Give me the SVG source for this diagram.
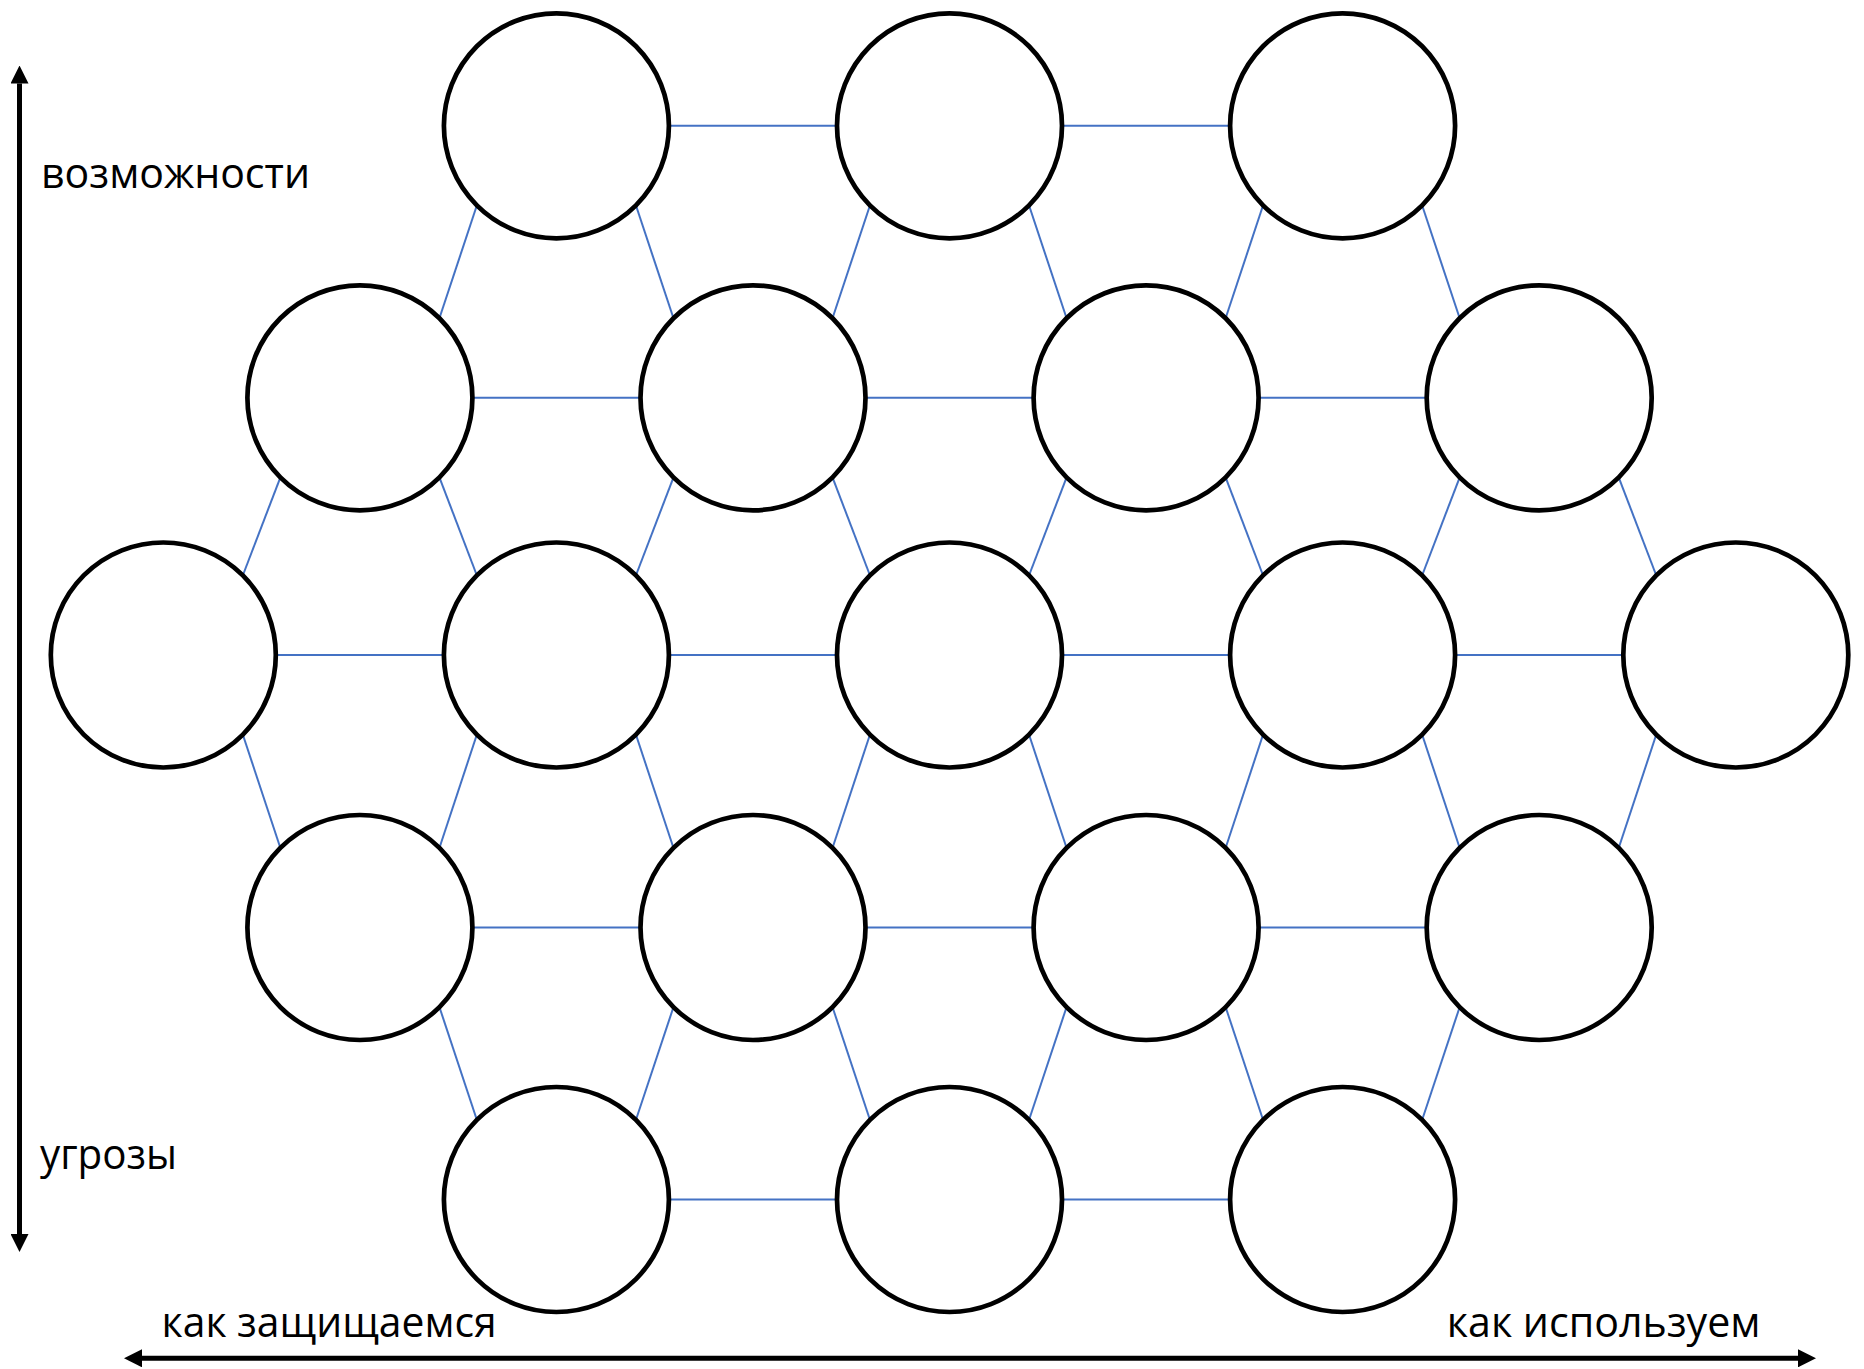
<svg xmlns="http://www.w3.org/2000/svg" width="1864" height="1369" viewBox="0 0 1864 1369">
<style>
.node{fill:#fff;stroke:#000;stroke-width:4.7}
.conn{stroke:#4472C4;stroke-width:2;fill:none}
.axis{stroke:#000;stroke-width:5;fill:none}
.lbl{font-family:"Open Sans","Noto Sans","Liberation Sans",sans-serif;font-size:42px;fill:#000}
</style>
<defs>
<marker id="ah" markerUnits="userSpaceOnUse" markerWidth="18" markerHeight="18" refX="0" refY="9" orient="auto-start-reverse" viewBox="0 0 18 18">
<path d="M0,0 L18,9 L0,18 z" fill="#000"/>
</marker>
</defs>
<rect width="1864" height="1369" fill="#fff"/>
<g id="connectors">
<!-- row 1 horizontals -->
<line class="conn" x1="668.9" y1="125.8" x2="836.9" y2="125.8"/>
<line class="conn" x1="1062" y1="125.8" x2="1230.1" y2="125.8"/>
<!-- row 1 -> row 2 -->
<line class="conn" x1="476.9" y1="205.3" x2="439.4" y2="318.3"/>
<line class="conn" x1="635.9" y1="205.3" x2="673.5" y2="318.3"/>
<line class="conn" x1="870" y1="205.3" x2="832.5" y2="318.3"/>
<line class="conn" x1="1029" y1="205.3" x2="1066.6" y2="318.3"/>
<line class="conn" x1="1263.1" y1="205.3" x2="1225.6" y2="318.3"/>
<line class="conn" x1="1422.1" y1="205.3" x2="1459.7" y2="318.3"/>
<!-- row 2 horizontals -->
<line class="conn" x1="472.4" y1="397.8" x2="640.5" y2="397.8"/>
<line class="conn" x1="865.5" y1="397.8" x2="1033.6" y2="397.8"/>
<line class="conn" x1="1258.6" y1="397.8" x2="1426.7" y2="397.8"/>
<!-- row 2 -> row 3 -->
<line class="conn" x1="280.4" y1="477.3" x2="242.8" y2="575.5"/>
<line class="conn" x1="439.4" y1="477.3" x2="476.9" y2="575.5"/>
<line class="conn" x1="673.5" y1="477.3" x2="635.9" y2="575.5"/>
<line class="conn" x1="832.5" y1="477.3" x2="870" y2="575.5"/>
<line class="conn" x1="1066.6" y1="477.3" x2="1029" y2="575.5"/>
<line class="conn" x1="1225.6" y1="477.3" x2="1263.1" y2="575.5"/>
<line class="conn" x1="1459.7" y1="477.3" x2="1422.1" y2="575.5"/>
<line class="conn" x1="1618.7" y1="477.3" x2="1656.3" y2="575.5"/>
<!-- row 3 horizontals -->
<line class="conn" x1="275.8" y1="655" x2="443.9" y2="655"/>
<line class="conn" x1="668.9" y1="655" x2="837" y2="655"/>
<line class="conn" x1="1062" y1="655" x2="1230.1" y2="655"/>
<line class="conn" x1="1455.1" y1="655" x2="1623.3" y2="655"/>
<!-- row 3 -> row 4 -->
<line class="conn" x1="242.8" y1="734.5" x2="280.4" y2="848"/>
<line class="conn" x1="476.9" y1="734.5" x2="439.4" y2="848"/>
<line class="conn" x1="635.9" y1="734.5" x2="673.5" y2="848"/>
<line class="conn" x1="870" y1="734.5" x2="832.5" y2="848"/>
<line class="conn" x1="1029" y1="734.5" x2="1066.6" y2="848"/>
<line class="conn" x1="1263.1" y1="734.5" x2="1225.6" y2="848"/>
<line class="conn" x1="1422.1" y1="734.5" x2="1459.7" y2="848"/>
<line class="conn" x1="1656.3" y1="734.5" x2="1618.7" y2="848"/>
<!-- row 4 horizontals -->
<line class="conn" x1="472.4" y1="927.5" x2="640.5" y2="927.5"/>
<line class="conn" x1="865.5" y1="927.5" x2="1033.6" y2="927.5"/>
<line class="conn" x1="1258.6" y1="927.5" x2="1426.7" y2="927.5"/>
<!-- row 4 -> row 5 -->
<line class="conn" x1="439.4" y1="1007" x2="476.9" y2="1120"/>
<line class="conn" x1="673.5" y1="1007" x2="635.9" y2="1120"/>
<line class="conn" x1="832.5" y1="1007" x2="870" y2="1120"/>
<line class="conn" x1="1066.6" y1="1007" x2="1029" y2="1120"/>
<line class="conn" x1="1225.6" y1="1007" x2="1263.1" y2="1120"/>
<line class="conn" x1="1459.7" y1="1007" x2="1422.1" y2="1120"/>
<!-- row 5 horizontals -->
<line class="conn" x1="668.9" y1="1199.5" x2="836.9" y2="1199.5"/>
<line class="conn" x1="1062" y1="1199.5" x2="1230.1" y2="1199.5"/>
</g>
<g id="nodes">
<g id="a1"><circle class="node" cx="556.4" cy="125.8" r="112.5"/></g>
<g id="a2"><circle class="node" cx="949.5" cy="125.8" r="112.5"/></g>
<g id="a3"><circle class="node" cx="1342.6" cy="125.8" r="112.5"/></g>
<g id="b1"><circle class="node" cx="359.9" cy="397.8" r="112.5"/></g>
<g id="b2"><circle class="node" cx="753" cy="397.8" r="112.5"/></g>
<g id="b3"><circle class="node" cx="1146.1" cy="397.8" r="112.5"/></g>
<g id="b4"><circle class="node" cx="1539.2" cy="397.8" r="112.5"/></g>
<g id="c1"><circle class="node" cx="163.3" cy="655" r="112.5"/></g>
<g id="c2"><circle class="node" cx="556.4" cy="655" r="112.5"/></g>
<g id="c3"><circle class="node" cx="949.5" cy="655" r="112.5"/></g>
<g id="c4"><circle class="node" cx="1342.6" cy="655" r="112.5"/></g>
<g id="c5"><circle class="node" cx="1735.8" cy="655" r="112.5"/></g>
<g id="d1"><circle class="node" cx="359.9" cy="927.5" r="112.5"/></g>
<g id="d2"><circle class="node" cx="753" cy="927.5" r="112.5"/></g>
<g id="d3"><circle class="node" cx="1146.1" cy="927.5" r="112.5"/></g>
<g id="d4"><circle class="node" cx="1539.2" cy="927.5" r="112.5"/></g>
<g id="e1"><circle class="node" cx="556.4" cy="1199.5" r="112.5"/></g>
<g id="e2"><circle class="node" cx="949.5" cy="1199.5" r="112.5"/></g>
<g id="e3"><circle class="node" cx="1342.6" cy="1199.5" r="112.5"/></g>
</g>
<g id="axes">
<line class="axis" x1="19.5" y1="83.5" x2="19.5" y2="1234" marker-start="url(#ah)" marker-end="url(#ah)"/>
<line class="axis" x1="142" y1="1358.3" x2="1798" y2="1358.3" marker-start="url(#ah)" marker-end="url(#ah)"/>
</g>
<g id="labels">
<text class="lbl" x="41" y="188" textLength="269" lengthAdjust="spacingAndGlyphs">возможности</text>
<text class="lbl" x="40" y="1169" textLength="137" lengthAdjust="spacingAndGlyphs">угрозы</text>
<text class="lbl" x="161.6" y="1337" textLength="335" lengthAdjust="spacingAndGlyphs">как защищаемся</text>
<text class="lbl" x="1446.8" y="1336.5" textLength="313.6" lengthAdjust="spacingAndGlyphs">как используем</text>
</g>
</svg>
